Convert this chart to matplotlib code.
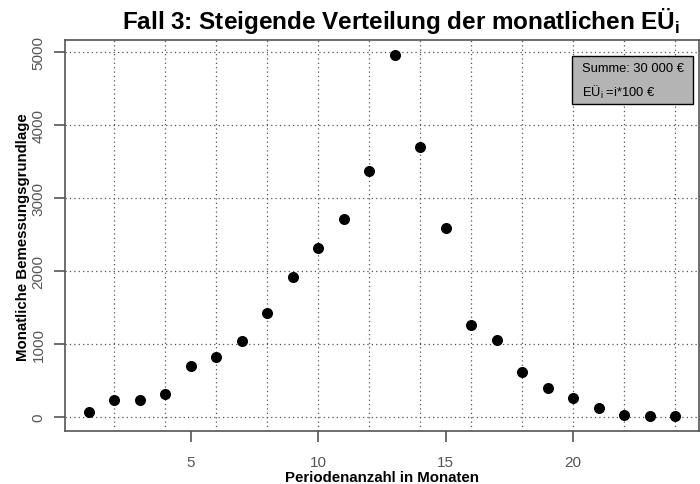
import numpy as np
import matplotlib.pyplot as plt
from matplotlib.patches import Rectangle

plt.rcParams['font.family'] = ['Liberation Sans', 'DejaVu Sans']

# Monatliche Bemessungsgrundlage pro Periode
monate = np.arange(1, 25)
bemessung = [60, 228, 224, 310, 700, 814, 1033, 1425, 1923, 2311, 2708, 3370,
             4968, 3704, 2585, 1260, 1051, 612, 393, 256, 119, 19, 5, 5]

x_ticks = [5, 10, 15, 20]
y_ticks = [0, 1000, 2000, 3000, 4000, 5000]
x_grid = np.arange(2, 25, 2)

fig = plt.figure(figsize=(7, 4.85), dpi=100)
ax = fig.add_axes([0.093, 0.109, 0.905, 0.806])

# grid like in R (dotted)
for g in x_grid:
    ax.axvline(g, color='#555555', linestyle=(0, (1, 2.5)), linewidth=0.9, zorder=1)
for g in y_ticks:
    ax.axhline(g, color='#555555', linestyle=(0, (1, 2.5)), linewidth=0.9, zorder=1)

ax.scatter(monate, bemessung, s=48, color='black', zorder=3)

ax.set_xlim(0.08, 24.92)
ax.set_ylim(-199, 5167)
ax.set_xticks(x_ticks)
ax.set_yticks(y_ticks)
ax.set_yticklabels([str(v) for v in y_ticks], rotation=90, va='center')
ax.tick_params(axis='both', direction='out', length=8, width=1.2, color='#555555',
               labelcolor='#555555', labelsize=11)
ax.tick_params(axis='x', pad=9)
ax.tick_params(axis='y', pad=6)
for sp in ax.spines.values():
    sp.set_color('#555555')
    sp.set_linewidth(1.2)

ax.set_xlabel('Periodenanzahl in Monaten', fontsize=10.8, fontweight='bold', labelpad=1)
ax.set_ylabel('Monatliche Bemessungsgrundlage', fontsize=10.8, fontweight='bold', labelpad=1)

fig.text(0.573, 0.957, 'Fall 3: Steigende Verteilung der monatlichen EÜ$_\\mathregular{i}$',
         ha='center', va='center', fontsize=17.5, fontweight='bold')

# Infobox
fig.add_artist(Rectangle((0.817, 0.7835), 0.173, 0.099, transform=fig.transFigure,
                         facecolor='#b4b4b4', edgecolor='black', linewidth=1, zorder=5))
fig.text(0.831, 0.858, 'Summe: 30 000 €', ha='left', va='center', fontsize=9.3, zorder=6)
fig.text(0.831, 0.810, 'EÜ$_\\mathregular{i}$ =i*100 €', ha='left', va='center',
         fontsize=9.3, zorder=6)

fig.savefig('out.png', dpi=100)
